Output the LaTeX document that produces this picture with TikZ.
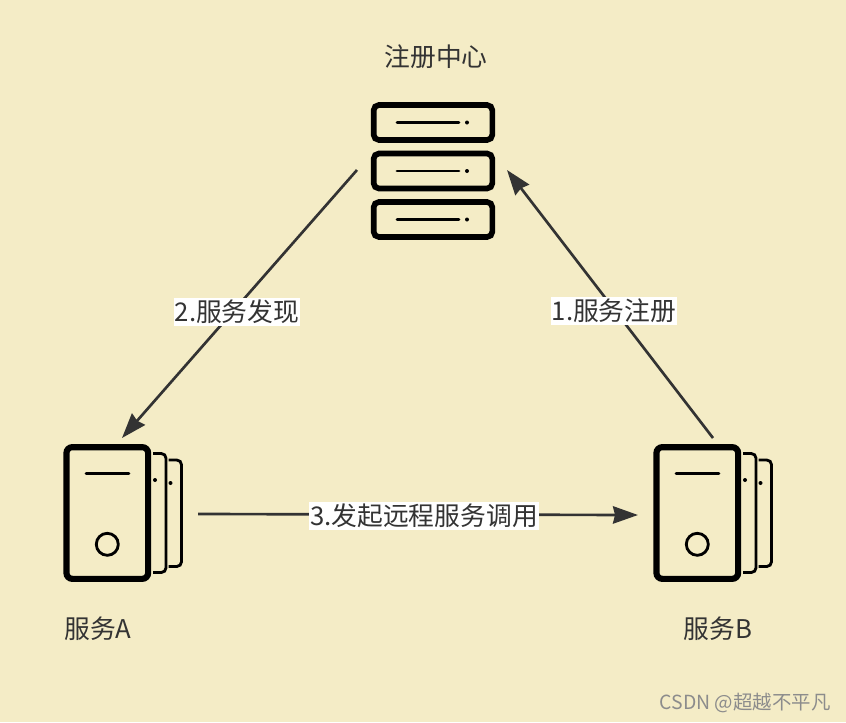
\documentclass[tikz,border=0pt]{standalone}
\usepackage{fontspec}
\setmainfont{Noto Sans CJK SC}
\usetikzlibrary{arrows.meta}
\definecolor{paper}{HTML}{F4ECC6}
\definecolor{ink}{HTML}{333333}

\begin{document}
\begin{tikzpicture}[
    x=0.03cm, y=-0.03cm,
    slot/.style={draw=black, line width=1.7mm, rounded corners=4.5pt, fill=none,
                 minimum width=3.56cm, minimum height=1.05cm, inner sep=0pt},
    tower/.style={draw=black, line width=1.85mm, rounded corners=5pt, fill=none,
                  minimum width=2.45cm, minimum height=3.95cm, inner sep=0pt},
    backcase/.style={draw=black, line width=0.85mm, rounded corners=4pt},
    glyph/.style={draw=black, line width=0.85mm, line cap=round},
    caption/.style={text=ink, font=\fontsize{22pt}{26pt}\selectfont, inner sep=0pt},
    tag/.style={text=ink, fill=white, font=\fontsize{22pt}{26pt}\selectfont,
                inner xsep=1pt, inner ysep=1.5pt},
    arr/.style={-{Stealth[length=0.75cm, width=0.52cm, inset=0.06cm]}, draw=ink, line width=0.8mm}
  ]
    \fill[paper] (0,0) rectangle (846,722);
    \useasboundingbox (0,0) rectangle (846,722);

    % registry
    \node[caption] (regname) at (436,57) {注册中心};
    \node[slot] (reg1) at (433,122.5) {};
    \node[slot] (reg2) at (433,171)   {};
    \node[slot] (reg3) at (433,219.5) {};
    \foreach \y in {122.5,171,219.5} {
      \draw[glyph] (397,\y) -- (459,\y);
      \fill (467,\y) circle (2);
    }

    % services
    \foreach \name/\dx in {srvA/0, srvB/590} {
      \begin{scope}[xshift=\dx*0.03cm]
        \node[tower] (\name) at (107.3,513) {};
        \draw[glyph] (86,473.7) -- (129,473.7);
        \draw[glyph] (107.3,544.3) circle (11);
        \draw[backcase] (153,453.5) -- (166,453.5) -- (166,572.5) -- (153,572.5);
        \draw[backcase] (168.5,460) -- (181.5,460) -- (181.5,566.5) -- (168.5,566.5);
        \fill (155,480) circle (2);
        \fill (170.5,483) circle (2);
      \end{scope}
    }
    \node[caption] (nameA) at (98,629)  {服务A};
    \node[caption] (nameB) at (718,629) {服务B};

    % connector ends
    \coordinate (regL) at (357,170);
    \coordinate (regR) at (507,170);
    \coordinate (srvAtop) at (122,438);
    \coordinate (srvBtop) at (713,438);
    \coordinate (srvAout) at (198,514);
    \coordinate (srvBin)  at (638,515);

    \draw[arr] (regL) -- (srvAtop);
    \draw[arr] (srvBtop) -- (regR);
    \draw[arr] (srvAout) -- (srvBin);

    \node[tag] (find) at (237,312) {2.服务发现};
    \node[tag] (sign) at (614,311) {1.服务注册};
    \node[tag] (call) at (424,516) {3.发起远程服务调用};

    \node[text=black!45, font=\fontsize{16.6pt}{20pt}\selectfont, inner sep=0pt] (wmark) at (745,703) {CSDN @超越不平凡};
  \end{tikzpicture}
\end{document}
